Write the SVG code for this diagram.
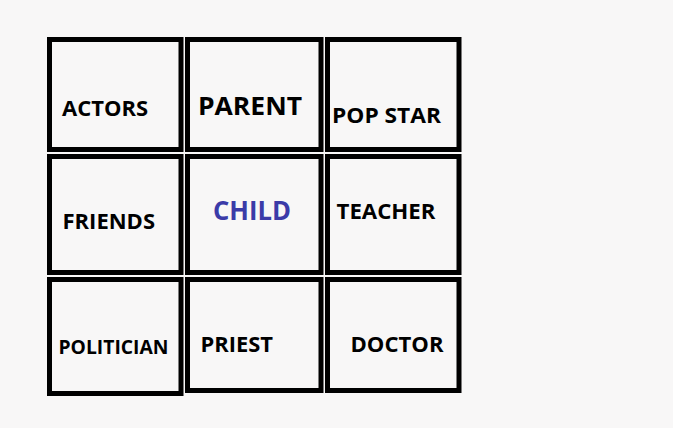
<svg xmlns="http://www.w3.org/2000/svg" width="673" height="428" viewBox="0 0 673 428">
  <style>
    .box { fill: none; stroke: #000; stroke-width: 5; }
    .lbl { font-family: "Open Sans", Lato, "Liberation Sans", sans-serif; font-weight: 700; fill: #000; }
    .child { fill: #3b3ba8; }
  </style>
  <rect x="0" y="0" width="673" height="428" fill="#f8f7f7"/>
  <g id="actors">
    <rect class="box" x="49.5" y="39.5" width="131.5" height="110"/>
    <text class="lbl" x="62" y="116" font-size="21" textLength="86" lengthAdjust="spacingAndGlyphs">ACTORS</text>
  </g>
  <g id="parent">
    <rect class="box" x="187.5" y="39.5" width="133.5" height="110"/>
    <text class="lbl" x="198" y="115" font-size="25" textLength="104" lengthAdjust="spacingAndGlyphs">PARENT</text>
  </g>
  <g id="popstar">
    <rect class="box" x="327.5" y="39.5" width="131.5" height="110"/>
    <text class="lbl" x="332" y="122.5" font-size="21" textLength="109" lengthAdjust="spacingAndGlyphs">POP STAR</text>
  </g>
  <g id="friends">
    <rect class="box" x="49.5" y="156.5" width="131.5" height="116"/>
    <text class="lbl" x="62.5" y="228.5" font-size="21.5" textLength="92.5" lengthAdjust="spacingAndGlyphs">FRIENDS</text>
  </g>
  <g id="child">
    <rect class="box" x="187.5" y="156.5" width="133.5" height="116"/>
    <text class="lbl child" x="213" y="220" font-size="26" textLength="78" lengthAdjust="spacingAndGlyphs">CHILD</text>
  </g>
  <g id="teacher">
    <rect class="box" x="327.5" y="156.5" width="131.5" height="116"/>
    <text class="lbl" x="336.5" y="218.5" font-size="21.5" textLength="99" lengthAdjust="spacingAndGlyphs">TEACHER</text>
  </g>
  <g id="politician">
    <rect class="box" x="49.5" y="279.5" width="131.5" height="114"/>
    <text class="lbl" x="58.5" y="354" font-size="20" textLength="110" lengthAdjust="spacingAndGlyphs">POLITICIAN</text>
  </g>
  <g id="priest">
    <rect class="box" x="187.5" y="279.5" width="133.5" height="111"/>
    <text class="lbl" x="200.5" y="352" font-size="22" textLength="72.5" lengthAdjust="spacingAndGlyphs">PRIEST</text>
  </g>
  <g id="doctor">
    <rect class="box" x="327.5" y="279.5" width="131.5" height="111"/>
    <text class="lbl" x="350.5" y="351.5" font-size="22" textLength="93" lengthAdjust="spacingAndGlyphs">DOCTOR</text>
  </g>
</svg>
